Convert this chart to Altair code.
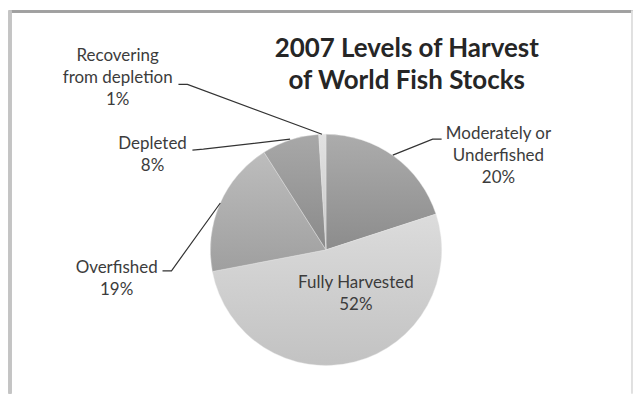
import altair as alt
import pandas as pd

# ---- data ----
categories = ["Moderately or\nUnderfished", "Fully Harvested", "Overfished",
              "Depleted", "Recovering\nfrom depletion"]
shares = [20, 52, 19, 8, 1]
top_colors = ["#acacac", "#dcdcdc", "#bdbdbd", "#a8a8a8", "#e2e2e2"]
bottom_colors = ["#8c8c8c", "#c2c2c2", "#9f9f9f", "#8a8a8a", "#c8c8c8"]
title_lines = "2007 Levels of Harvest\nof World Fish Stocks"

# ---- layout (page pixel coordinates; y = first text line) ----
W, H = 626, 384
OFF = 8
CX, CY, R = 326, 248, 116
label_x = [499, 356, 116, 152, 117]
label_y = [132, 281, 266, 142, 54]
leaders = [
    [(393, 153), (433, 137), (442, 137)],
    None,
    [(162, 269), (171, 269), (220, 201)],
    [(192, 148), (203, 147), (290, 137)],
    [(178, 82), (187, 82), (322, 132)],
]

df = pd.DataFrame({
    "idx": list(range(len(categories))),
    "name": categories,
    "share": shares,
})
df["label"] = [f"{n}\n{v}%" for n, v in zip(categories, shares)]
df["lx"] = label_x
df["ly"] = label_y

xs = alt.Scale(domain=[OFF, OFF + W], nice=False, zero=False)
ys = alt.Scale(domain=[OFF + H, OFF], nice=False, zero=False)

base = alt.Chart(df).transform_window(
    cum="sum(share)", sort=[alt.SortField("idx")], frame=[None, 0]
).transform_calculate(start="datum.cum - datum.share")

theta_scale = alt.Scale(domain=[0, 100], range=[0, 6.283185307])

slices = []
for i in range(len(categories)):
    grad = alt.Gradient(
        gradient="linear", x1=0, y1=0, x2=0, y2=1,
        stops=[alt.GradientStop(offset=0, color=top_colors[i]),
               alt.GradientStop(offset=1, color=bottom_colors[i])],
    )
    slices.append(
        base.transform_filter(alt.datum.idx == i).mark_arc(
            color=grad, outerRadius=R, stroke="#e6e6e6", strokeWidth=0.4
        ).encode(
            theta=alt.Theta("start:Q", scale=theta_scale),
            theta2="cum:Q",
            x=alt.value(CX - OFF),
            y=alt.value(CY - OFF),
        )
    )

lrows = []
for i, pts in enumerate(leaders):
    if not pts:
        continue
    for k, (px, py) in enumerate(pts):
        lrows.append({"seg": i, "ord": k, "px": px, "py": py})
ldf = pd.DataFrame(lrows)

lines = alt.Chart(ldf).mark_line(color="#333333", strokeWidth=1.2).encode(
    x=alt.X("px:Q", scale=xs, axis=None),
    y=alt.Y("py:Q", scale=ys, axis=None),
    detail="seg:N",
    order="ord:Q",
)

labels = alt.Chart(df).mark_text(
    font="Lato", fontSize=17, color="#3c3c3c", lineBreak="\n",
    lineHeight=22, align="center", baseline="middle",
).encode(
    x=alt.X("lx:Q", scale=xs, axis=None),
    y=alt.Y("ly:Q", scale=ys, axis=None),
    text="label:N",
)

tdf = pd.DataFrame({"t": [title_lines], "tx": [407], "ty": [47]})
title = alt.Chart(tdf).mark_text(
    font="Lato", fontSize=26, fontWeight="bold", color="#262626",
    lineBreak="\n", lineHeight=32, align="center", baseline="middle",
).encode(
    x=alt.X("tx:Q", scale=xs, axis=None),
    y=alt.Y("ty:Q", scale=ys, axis=None),
    text="t:N",
)

border = [
    alt.Chart(df).mark_rule(color="#a0a0a0", strokeWidth=2).encode(
        x=alt.value(0), x2=alt.value(W), y=alt.value(1)),
    alt.Chart(df).mark_rule(color="#c4c4c4", strokeWidth=3).encode(
        x=alt.value(1), y=alt.value(0), y2=alt.value(H)),
    alt.Chart(df).mark_rule(color="#e0e0e0", strokeWidth=1).encode(
        x=alt.value(W - 1), y=alt.value(0), y2=alt.value(H)),
]

chart = alt.layer(*slices, lines, labels, title, *border).properties(
    width=W, height=H, padding=0, background="white"
).configure_view(stroke=None)

chart.save("out.html", embed_options={"renderer": "svg", "actions": False})
